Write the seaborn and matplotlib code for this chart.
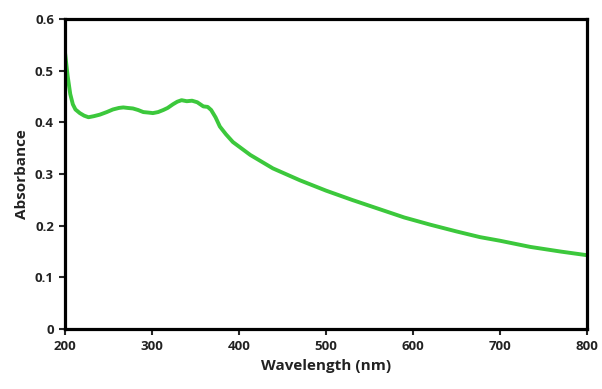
import pandas as pd
import matplotlib
matplotlib.use("Agg")
import matplotlib.pyplot as plt
import seaborn as sns

# values
wavelength = [200, 203, 206, 209, 212, 217, 222, 227, 233, 240, 248, 255, 262, 267, 272, 278,
              284, 290, 296, 301, 307, 313, 318, 324, 329, 334, 340, 346, 352, 359, 364, 368,
              373, 378, 385, 393, 401, 413, 439, 470, 500, 530, 560, 590, 620, 650,
              677, 700, 735, 770, 800]
absorbance = [0.535, 0.49, 0.455, 0.435, 0.425, 0.418, 0.413, 0.41, 0.412, 0.415, 0.42, 0.425,
              0.428, 0.429, 0.428, 0.427, 0.424, 0.42, 0.419, 0.418, 0.42, 0.424, 0.428, 0.435,
              0.44, 0.443, 0.441, 0.442, 0.439, 0.431, 0.43, 0.424, 0.41, 0.392, 0.377, 0.362,
              0.352, 0.337, 0.311, 0.288, 0.268, 0.250, 0.233, 0.216, 0.202, 0.189,
              0.178, 0.171, 0.159, 0.150, 0.143]

df = pd.DataFrame({"Wavelength": wavelength, "Absorbance": absorbance})

sns.set_style("ticks")
plt.rcParams["font.family"] = ["Open Sans", "DejaVu Sans"]

fig = plt.figure(figsize=(6.02, 3.89), dpi=100)
ax = fig.add_axes([0.108, 0.154, 0.867, 0.797])

sns.lineplot(data=df, x="Wavelength", y="Absorbance", ax=ax, color="#3cc83c", linewidth=2.8)

ax.set_xlim(200, 800)
ax.set_ylim(0, 0.6)
ax.set_xticks([200, 300, 400, 500, 600, 700, 800])
ax.set_yticks([0, 0.1, 0.2, 0.3, 0.4, 0.5, 0.6])
ax.set_yticklabels(["0", "0.1", "0.2", "0.3", "0.4", "0.5", "0.6"])
ax.set_xlabel("Wavelength (nm)", fontsize=11, fontweight="bold", color="#222222")
ax.set_ylabel("Absorbance", fontsize=11, fontweight="bold", color="#222222")

for s in ax.spines.values():
    s.set_visible(True)
    s.set_linewidth(2.3)
    s.set_color("black")
ax.tick_params(direction="out", length=4, width=1.5, labelsize=9.5, pad=4)
for lab in ax.get_xticklabels() + ax.get_yticklabels():
    lab.set_fontweight("bold")
    lab.set_color("#222222")

fig.savefig("out.png", dpi=100)
